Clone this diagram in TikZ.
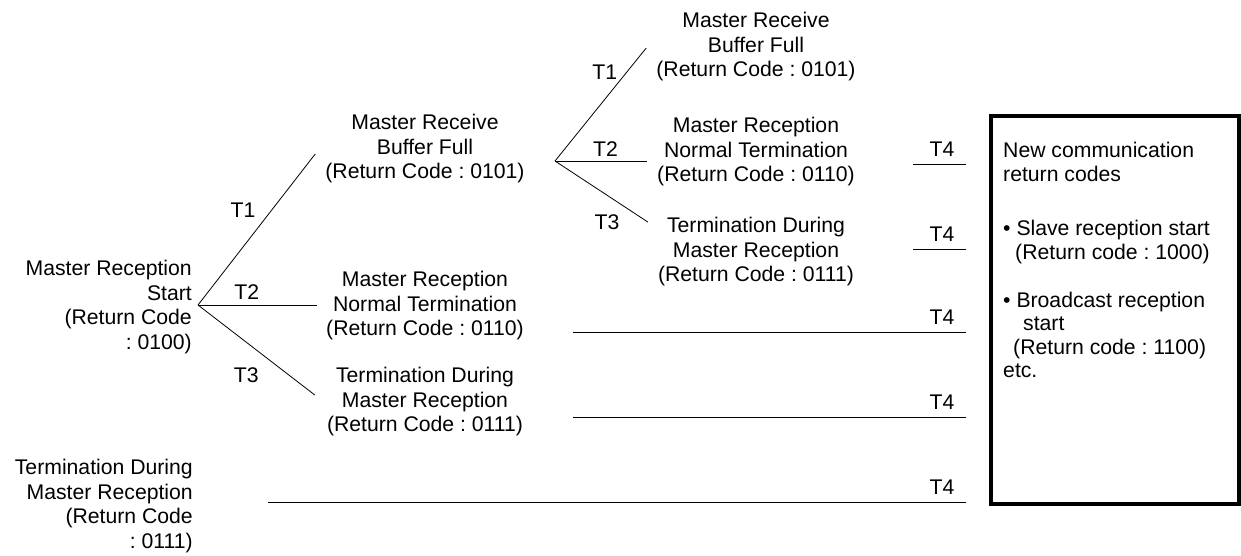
\documentclass[tikz,border=0pt]{standalone}
\usepackage{fontspec}
\setmainfont{Liberation Sans}
\usetikzlibrary{calc}
\frenchspacing

\begin{document}
\begin{tikzpicture}[x=1pt,y=-1pt,
  txt/.style={font=\fontsize{21.2}{24.5}\selectfont, inner sep=0pt, align=center},
  tlab/.style={font=\fontsize{21.2}{24.5}\selectfont, inner sep=3pt},
  wire/.style={line width=0.8pt}]
\useasboundingbox (0,0) rectangle (1241,555);

\node[txt, align=right, anchor=east] (A) at (192,307) {Master Reception\\Start\\(Return Code\\: 0100)};
\node[txt] (B1) at (425,149) {Master Receive\\Buffer Full\\(Return Code : 0101)};
\node[txt] (B2) at (425,306) {Master Reception\\Normal Termination\\(Return Code : 0110)};
\node[txt] (B3) at (425,402) {Termination During\\Master Reception\\(Return Code : 0111)};
\node[txt] (C1) at (756,47) {Master Receive\\Buffer Full\\(Return Code : 0101)};
\node[txt] (C2) at (756,152) {Master Reception\\Normal Termination\\(Return Code : 0110)};
\node[txt] (C3) at (756,252) {Termination During\\Master Reception\\(Return Code : 0111)};
\node[txt, align=right, anchor=east] (D) at (193,506) {Termination During\\Master Reception\\(Return Code\\: 0111)};

\node[draw, line width=3.5pt, minimum width=248pt, minimum height=388pt] (box) at (1115,310) {};
\node[txt, align=left, anchor=north west, font=\fontsize{21.2}{23.5}\selectfont] (info) at (1003,142)
  {New communication\\return codes\\[31pt]
   • Slave reception start\\\hspace*{12pt}(Return code : 1000)\\[24.5pt]
   • Broadcast reception\\\hspace*{20pt}start\\\hspace*{10pt}(Return code : 1100)\\etc.};

% forks
\coordinate (f1) at (198,305);
\coordinate (f2) at (555,161);
\coordinate (b1in) at ($(B1.west)+(-10,5)$);
\coordinate (b2in) at ($(B2.west)+(-9,-1)$);
\coordinate (b3in) at ($(B3.west)+(-12,-7)$);
\coordinate (c1in) at ($(C1.west)+(-10,1)$);
\coordinate (c2in) at ($(C2.west)+(-10,9)$);
\coordinate (c3in) at ($(C3.west)+(-10,-30)$);

\draw[wire] (f1) -- node[tlab, pos=.63, left=13pt] {T1} (b1in);
\draw[wire] (f1) -- node[tlab, pos=.41, above=2pt] {T2} (b2in);
\draw[wire] (f1) -- node[tlab, pos=.78, left=27pt] {T3} (b3in);
\draw[wire] (f2) -- node[tlab, pos=.79, left=6.5pt] {T1} (c1in);
\draw[wire] (f2) -- node[tlab, pos=.55, above=1.5pt] {T2} (c2in);
\draw[wire] (f2) -- node[tlab, pos=1, left=25pt] {T3} (c3in);

% T4 lines
\coordinate (s1) at (913,164); \coordinate (e1) at (966,164);
\coordinate (s2) at (913,249); \coordinate (e2) at (966,249);
\coordinate (s3) at (573,332); \coordinate (e3) at (966,332);
\coordinate (s4) at (573,417); \coordinate (e4) at (966,417);
\coordinate (s5) at (268,502); \coordinate (e5) at (966,502);

\draw[wire] (s1) -- node[tlab, pos=1, above=4pt, xshift=-24pt] {T4} (e1);
\draw[wire] (s2) -- node[tlab, pos=1, above=4pt, xshift=-24pt] {T4} (e2);
\draw[wire] (s3) -- node[tlab, pos=1, above=4pt, xshift=-24pt] {T4} (e3);
\draw[wire] (s4) -- node[tlab, pos=1, above=4pt, xshift=-24pt] {T4} (e4);
\draw[wire] (s5) -- node[tlab, pos=1, above=4pt, xshift=-24pt] {T4} (e5);

\end{tikzpicture}
\end{document}
